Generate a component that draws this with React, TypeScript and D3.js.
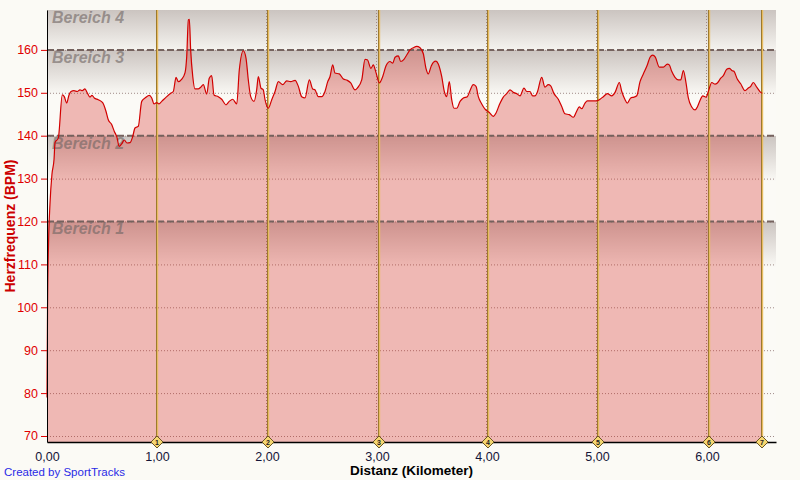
import * as d3 from "d3";
import { useEffect, useRef } from "react";

// Distanz in km und Herzfrequenz in BPM
const distanceKm = [
  0, 0.005, 0.014, 0.027, 0.045, 0.064, 0.073, 0.103, 0.139, 0.157, 0.179, 0.2, 0.218, 0.245, 0.275, 0.3,
  0.321, 0.345, 0.366, 0.391, 0.409, 0.43, 0.466, 0.506, 0.536, 0.557, 0.588, 0.612, 0.634, 0.657, 0.679,
  0.703, 0.727, 0.755, 0.779, 0.8, 0.83, 0.861, 0.897, 0.93, 0.952, 0.973, 0.997, 1.018, 1.043, 1.088,
  1.125, 1.148, 1.173, 1.194, 1.225, 1.255, 1.27, 1.285, 1.294, 1.306, 1.325, 1.345, 1.375, 1.397, 1.421,
  1.452, 1.475, 1.497, 1.518, 1.557, 1.588, 1.627, 1.657, 1.688, 1.725, 1.748, 1.785, 1.809, 1.83, 1.852,
  1.882, 1.906, 1.921, 1.945, 1.966, 1.982, 2.012, 2.043, 2.073, 2.103, 2.143, 2.179, 2.215, 2.255, 2.285,
  2.315, 2.345, 2.385, 2.415, 2.436, 2.466, 2.497, 2.527, 2.552, 2.573, 2.597, 2.618, 2.657, 2.694, 2.73,
  2.761, 2.8, 2.821, 2.861, 2.891, 2.912, 2.945, 2.966, 2.991, 3.021, 3.052, 3.082, 3.118, 3.143, 3.164,
  3.194, 3.215, 3.245, 3.27, 3.3, 3.33, 3.361, 3.391, 3.421, 3.445, 3.466, 3.491, 3.512, 3.536, 3.557,
  3.588, 3.612, 3.633, 3.657, 3.679, 3.7, 3.725, 3.755, 3.785, 3.821, 3.845, 3.875, 3.9, 3.921, 3.952,
  3.982, 4.021, 4.057, 4.082, 4.112, 4.148, 4.179, 4.209, 4.239, 4.27, 4.3, 4.336, 4.361, 4.391, 4.415,
  4.436, 4.457, 4.497, 4.527, 4.557, 4.579, 4.609, 4.648, 4.679, 4.709, 4.748, 4.785, 4.815, 4.839, 4.861,
  4.891, 4.912, 4.952, 4.997, 5.027, 5.057, 5.094, 5.134, 5.164, 5.203, 5.225, 5.255, 5.275, 5.306, 5.336,
  5.361, 5.391, 5.421, 5.457, 5.482, 5.506, 5.53, 5.566, 5.603, 5.639, 5.657, 5.679, 5.709, 5.739, 5.761,
  5.785, 5.809, 5.83, 5.861, 5.891, 5.912, 5.936, 5.961, 5.991, 6.012, 6.043, 6.073, 6.094, 6.125, 6.148,
  6.179, 6.203, 6.225, 6.245, 6.275, 6.306, 6.345, 6.375, 6.397, 6.421, 6.452, 6.488, 6.503,
];
const heartRate = [
  79, 100, 115, 124, 131, 134.5, 138.4, 139.5, 149.5, 149.1, 147.6, 149.5, 150.3, 150.5, 150.3, 150.7,
  150.5, 150.9, 150, 149, 149.4, 148.8, 148.4, 147.7, 145.7, 143.7, 142.6, 141, 139.8, 137.5, 138.1,
  139, 138.3, 138.4, 139.8, 141.8, 142.2, 148, 148.9, 149.4, 148.8, 147.4, 147.7, 147.4, 148, 149.1,
  149.9, 150.3, 153.6, 152.6, 153.2, 154.7, 158.4, 167, 167.1, 160, 153.8, 150.9, 150.9, 151.3, 151.9,
  149.7, 153.4, 154, 149.5, 149.1, 148.5, 147.2, 148, 148.5, 147.4, 155.3, 159.8, 158.1, 153, 149.1,
  148, 150.7, 153.8, 151.1, 150.7, 148.4, 146.4, 148.4, 150.3, 152.6, 151.9, 152.8, 152.6, 152.9, 151.5,
  149.1, 148.8, 153, 150.9, 150.7, 149.1, 149.1, 150.3, 152.6, 153.8, 156.5, 154.6, 154.4, 153.2, 152.9,
  152.3, 150.7, 151.1, 153, 157.8, 157.7, 155.7, 156.5, 154.7, 152.3, 153.8, 156.3, 157.3, 156.9, 158.3,
  158.6, 157.3, 157.8, 158.8, 160, 160.5, 160.8, 160.5, 159.1, 155.7, 154.4, 156.1, 157.1, 157.4, 156.7,
  153.8, 150.3, 149.1, 152.6, 148.4, 146.4, 146.4, 148, 148.8, 149.1, 150.5, 151.9, 151.5, 149.1, 147.4,
  146.2, 145.4, 144.5, 145.3, 147.2, 149, 149.8, 150.7, 150.1, 149.8, 149.3, 151.1, 150.3, 150.3, 149.3,
  149.3, 150.1, 153.6, 151.3, 151.9, 151.6, 149.8, 148.5, 146.8, 145.1, 144.9, 144.3, 145.7, 146.7, 146.3,
  147.6, 148.1, 148.1, 148.1, 148.5, 149.1, 149.8, 149.3, 150.1, 152.4, 150.3, 148.4, 147.6, 148.8, 149,
  149.3, 152.6, 154.4, 156.5, 158.3, 158.8, 158.3, 156, 156, 156.7, 156.5, 155, 153.6, 153, 153,
  155.2, 152.3, 148.8, 146.7, 146, 146.7, 148.2, 149.3, 149, 150.3, 152.4, 152, 152.3, 153.4, 154,
  155.5, 155.7, 155.2, 155, 153.2, 152.1, 150.5, 151.1, 151.5, 152.4, 151.3, 150.1, 149.9,
];

// Runden-Markierungen
const lapKm = [1.003, 2.012, 3.018, 4.012, 5.012, 6.021, 6.503];
const lapLabels = ["1", "2", "3", "4", "5", "6", "7"];

// Herzfrequenz-Bereiche
const zoneNames = ["Bereich 1", "Bereich 2", "Bereich 3", "Bereich 4"];
const zoneLimits = [120, 140, 160];

const yTicks = [70, 80, 90, 100, 110, 120, 130, 140, 150, 160];
const xTicks = [0, 1, 2, 3, 4, 5, 6];

const W = 800;
const H = 480;
const margin = { top: 10, right: 24, bottom: 38, left: 47 };
const FONT = "'Liberation Sans', Arial, sans-serif";

const App = () => {
  const chartRef = useRef<SVGSVGElement>(null);

  useEffect(() => {
    const svg = d3.select(chartRef.current);
    svg.selectAll("*").remove();

    const x = d3.scaleLinear().domain([0, 6.627]).range([margin.left, W - margin.right]);
    const y = d3.scaleLinear().domain([68.6, 169.3]).range([H - margin.bottom, margin.top]);
    const [yMin, yMax] = y.domain();

    // hintergrund
    svg.append("rect").attr("width", W).attr("height", H).attr("fill", "#fbfaf5");

    // bereiche mit verlauf
    const bounds = [yMin, ...zoneLimits, yMax];
    const defs = svg.append("defs");
    zoneNames.forEach((name, i) => {
      const top = y(bounds[i + 1]);
      const bottom = y(bounds[i]);
      const grad = defs.append("linearGradient")
        .attr("id", "zone" + i)
        .attr("gradientUnits", "userSpaceOnUse")
        .attr("x1", 0).attr("x2", 0)
        .attr("y1", top).attr("y2", top + 46);
      grad.append("stop").attr("offset", 0).attr("stop-color", "#cbc4c0");
      grad.append("stop").attr("offset", 1).attr("stop-color", "#fbfaf6");
      svg.append("rect")
        .attr("x", x(0))
        .attr("y", top)
        .attr("width", x.range()[1] - x(0))
        .attr("height", bottom - top)
        .attr("fill", `url(#zone${i})`);
    });

    // gitter
    svg.append("g")
      .selectAll("line")
      .data(yTicks)
      .join("line")
      .attr("x1", x(0)).attr("x2", x.range()[1])
      .attr("y1", d => y(d) + 0.5).attr("y2", d => y(d) + 0.5)
      .attr("stroke", "#a08a88")
      .attr("stroke-dasharray", "1,2");
    svg.append("g")
      .selectAll("line")
      .data(xTicks.slice(1))
      .join("line")
      .attr("x1", d => Math.round(x(d)) - 0.5).attr("x2", d => Math.round(x(d)) - 0.5)
      .attr("y1", y.range()[1]).attr("y2", y.range()[0])
      .attr("stroke", "#a08a88")
      .attr("stroke-dasharray", "1,2");

    const pts = distanceKm.map((d, i) => [d, heartRate[i]] as [number, number]);

    // flaeche
    const area = d3.area<[number, number]>()
      .x(d => x(d[0]))
      .y0(y(yMin))
      .y1(d => y(d[1]))
      .curve(d3.curveMonotoneX);
    svg.append("path")
      .attr("d", area(pts))
      .attr("fill", "rgba(212, 40, 32, 0.31)");

    // bereichsgrenzen
    svg.append("g")
      .selectAll("line")
      .data(zoneLimits)
      .join("line")
      .attr("x1", x(0)).attr("x2", x.range()[1])
      .attr("y1", d => y(d)).attr("y2", d => y(d))
      .attr("stroke", "#75625e")
      .attr("stroke-width", 2)
      .attr("stroke-dasharray", "7,3");

    // bereichsnamen
    svg.append("g")
      .selectAll("text")
      .data(zoneNames)
      .join("text")
      .attr("x", x(0) + 5)
      .attr("y", (d, i) => y(bounds[i + 1]) + 13)
      .attr("font-family", FONT)
      .attr("font-size", 16)
      .attr("font-weight", "bold")
      .attr("font-style", "italic")
      .attr("fill", "rgba(110, 100, 98, 0.6)")
      .text(d => d);

    // runden-linien
    const laps = svg.append("g");
    lapKm.forEach(k => {
      const lx = Math.round(x(k));
      laps.append("rect")
        .attr("x", lx - 1).attr("y", y.range()[1])
        .attr("width", 1).attr("height", y.range()[0] - y.range()[1])
        .attr("fill", "#9c7a2e");
      laps.append("rect")
        .attr("x", lx).attr("y", y.range()[1])
        .attr("width", 1.2).attr("height", y.range()[0] - y.range()[1])
        .attr("fill", "#e8bc62");
    });

    // linie
    const line = d3.line<[number, number]>()
      .x(d => x(d[0]))
      .y(d => y(d[1]))
      .curve(d3.curveMonotoneX);
    svg.append("path")
      .attr("d", line(pts))
      .attr("fill", "none")
      .attr("stroke", "#d20000")
      .attr("stroke-width", 1.2);

    // y-achse
    const yAxis = svg.append("g")
      .attr("transform", `translate(${margin.left}, 0)`)
      .call(d3.axisLeft(y).tickValues(yTicks).tickSize(6).tickPadding(3).tickSizeOuter(0));
    yAxis.select(".domain").attr("stroke", "#000");
    yAxis.selectAll(".tick line").attr("stroke", "#e00000");
    yAxis.selectAll(".tick text")
      .attr("fill", "#e00000")
      .attr("font-family", FONT)
      .attr("font-size", 12.5);

    // x-achse
    const xAxis = svg.append("g")
      .attr("transform", `translate(0, ${H - margin.bottom})`)
      .call(d3.axisBottom(x).tickValues(xTicks).tickSize(0).tickPadding(10).tickSizeOuter(0)
        .tickFormat(d => d3.format(".2f")(d as number).replace(".", ",")));
    xAxis.select(".domain").attr("stroke", "#000").attr("stroke-width", 1.5);
    xAxis.selectAll(".tick text")
      .attr("fill", "#141438")
      .attr("font-family", FONT)
      .attr("font-size", 12.5);

    // runden-rauten
    const marks = svg.append("g")
      .selectAll("g")
      .data(lapKm)
      .join("g")
      .attr("transform", d => `translate(${Math.round(x(d))}, ${H - margin.bottom})`);
    marks.append("path")
      .attr("d", "M0,-6L6,0L0,6L-6,0Z")
      .attr("fill", "#f6d670")
      .attr("stroke", "#6a5624");
    marks.append("text")
      .attr("text-anchor", "middle")
      .attr("y", 2.5)
      .attr("font-family", FONT)
      .attr("font-size", 7)
      .attr("font-weight", "bold")
      .attr("fill", "#222")
      .text((d, i) => lapLabels[i]);

    // titel
    svg.append("text")
      .attr("transform", `translate(15, ${(y.range()[0] + y.range()[1]) / 2}) rotate(-90)`)
      .attr("text-anchor", "middle")
      .attr("font-family", FONT)
      .attr("font-size", 14)
      .attr("font-weight", "bold")
      .attr("fill", "#cc0000")
      .text("Herzfrequenz (BPM)");
    svg.append("text")
      .attr("x", (x.range()[0] + x.range()[1]) / 2)
      .attr("y", 475)
      .attr("text-anchor", "middle")
      .attr("font-family", FONT)
      .attr("font-size", 13.5)
      .attr("font-weight", "bold")
      .attr("fill", "#000")
      .text("Distanz (Kilometer)");
    svg.append("text")
      .attr("x", 4)
      .attr("y", 476)
      .attr("font-family", FONT)
      .attr("font-size", 11.5)
      .attr("fill", "#2a2ae6")
      .text("Created by SportTracks");
  }, []);

  return (
    <svg ref={chartRef} width={W} height={H} style={{ position: "absolute", left: 0, top: 0 }} />
  );
};

export default App;
